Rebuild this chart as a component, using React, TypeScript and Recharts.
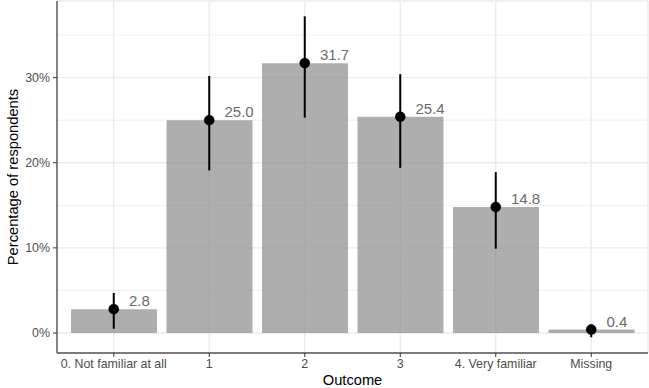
import { ComposedChart, Bar, Line, XAxis, YAxis, CartesianGrid, ErrorBar, LabelList } from 'recharts'

const categories = ['0. Not familiar at all', '1', '2', '3', '4. Very familiar', 'Missing']
const percentages = [2.8, 25.0, 31.7, 25.4, 14.8, 0.4]
const ciLower = [0.5, 19.1, 25.3, 19.4, 9.9, -0.5]
const ciUpper = [4.7, 30.2, 37.2, 30.4, 18.9, 1.0]
const yTicks = [0, 10, 20, 30]
const minorTicks = [5, 15, 25, 35]
const yDomain = [-2.35, 39]

const FONT = '"Liberation Sans", Arial, Helvetica, sans-serif'

// error bar wants [below, above] deltas from the value
const data = categories.map((name, i) => ({
  name,
  pct: percentages[i],
  err: [percentages[i] - ciLower[i], ciUpper[i] - percentages[i]],
}))

// minor gridlines: same linear mapping the y axis uses
const minorLines = ({ offset }: any) =>
  minorTicks.map(t => offset.top + (offset.height * (yDomain[1] - t)) / (yDomain[1] - yDomain[0]))

const ValueLabel = (props: any) => {
  const { x, y, width, value } = props
  return (
    <text x={x + width / 2 + 15} y={y - 3} fill="#6b6b6b" fontSize={15} fontFamily={FONT} textAnchor="start">
      {Number(value).toFixed(1)}
    </text>
  )
}

const YTitle = () => (
  <text x={17.5} y={177} transform="rotate(-90, 17.5, 177)" textAnchor="middle" fontSize={14.7} fontFamily={FONT} fill="#000">
    Percentage of respondents
  </text>
)

const XTitle = () => (
  <text x={352.5} y={385} textAnchor="middle" fontSize={14.7} fontFamily={FONT} fill="#000">
    Outcome
  </text>
)

export default function App() {
  const tickStyle = { fill: '#4d4d4d', fontSize: 12.4, fontFamily: FONT }
  return (
    <div style={{ position: 'absolute', left: 0, top: 0, background: '#fff' }}>
      <ComposedChart width={649} height={388} data={data} margin={{ top: 1, right: 1, bottom: 0, left: 0 }}>
        <CartesianGrid vertical={false} horizontalCoordinatesGenerator={minorLines} stroke="#ededed" strokeWidth={0.9} />
        <CartesianGrid stroke="#ebebeb" strokeWidth={1.4} />
        <XAxis
          dataKey="name"
          height={35}
          padding={{ left: 9, right: 9 }}
          tick={tickStyle}
          tickSize={4}
          tickMargin={2}
          tickLine={{ stroke: '#333' }}
          axisLine={{ stroke: '#555', strokeWidth: 1.4 }}
          interval={0}
          label={<XTitle />}
        />
        <XAxis xAxisId="t" dataKey="name" orientation="top" height={0} tick={false} tickLine={false} axisLine={{ stroke: '#555', strokeWidth: 1.4 }} />
        <YAxis
          width={57}
          domain={yDomain}
          ticks={yTicks}
          tickFormatter={(v) => `${v}%`}
          tick={tickStyle}
          tickSize={4}
          tickMargin={3}
          tickLine={{ stroke: '#333' }}
          axisLine={{ stroke: '#555', strokeWidth: 1.4 }}
          allowDataOverflow
          label={<YTitle />}
        />
        <YAxis yAxisId="r" orientation="right" width={0} tick={false} tickLine={false} axisLine={{ stroke: '#555', strokeWidth: 1.4 }} />
        <Bar dataKey="pct" fill="#8c8c8c" fillOpacity={0.7} barSize={86} isAnimationActive={false}>
          <LabelList dataKey="pct" content={<ValueLabel />} />
        </Bar>
        <Line
          dataKey="pct"
          stroke="none"
          dot={{ r: 5, fill: '#000', stroke: '#000', strokeWidth: 0.5 }}
          activeDot={false}
          isAnimationActive={false}
        >
          <ErrorBar dataKey="err" direction="y" width={0} stroke="#000" strokeWidth={2} />
        </Line>
      </ComposedChart>
    </div>
  )
}
